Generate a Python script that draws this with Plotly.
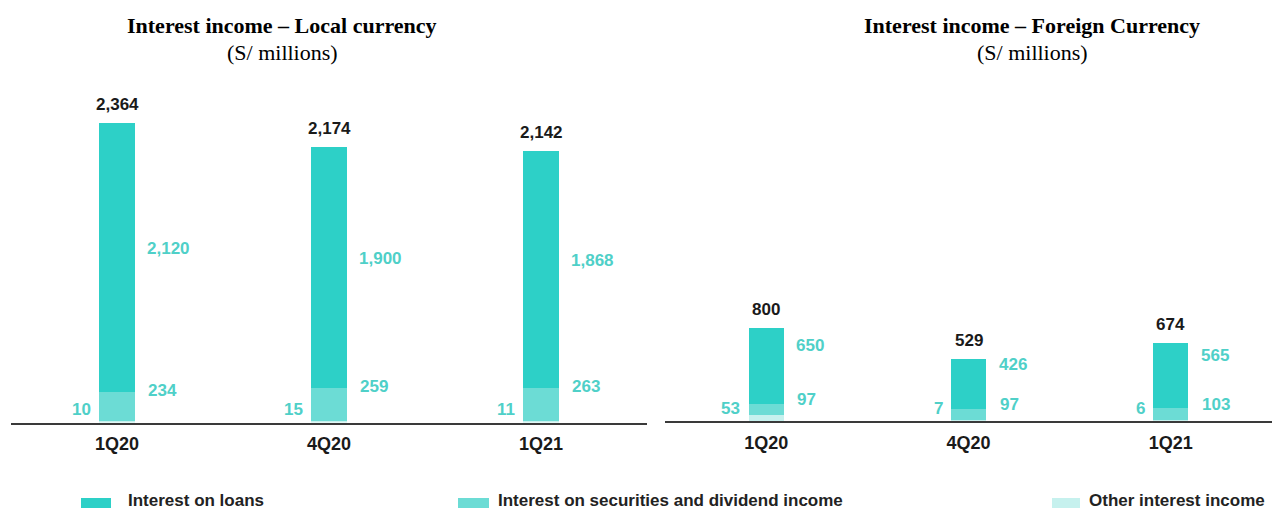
import plotly.graph_objects as go

# ---------------- data ----------------
categories = ["1Q20", "4Q20", "1Q21"]
series_names = ["Interest on loans", "Interest on securities and dividend income", "Other interest income"]

local_loans = [2120, 1900, 1868]
local_securities = [234, 259, 263]
local_other = [10, 15, 11]
local_total = [2364, 2174, 2142]

foreign_loans = [650, 426, 565]
foreign_securities = [97, 97, 103]
foreign_other = [53, 7, 6]
foreign_total = [800, 529, 674]

titles = ["Interest income – Local currency", "Interest income – Foreign Currency"]
subtitle = "(S/ millions)"

# ---------------- style ----------------
OFF = 8  # page body margin
W, H = 1281 - OFF, 512 - OFF
C_LOANS = "#2dd0c7"
C_SEC = "#6cdcd5"
C_OTHER = "#c6f1ee"
C_LABEL = "#4fd0c8"
SANS = "Liberation Sans, Arial, sans-serif"
SERIF = "Liberation Serif, Times New Roman, serif"


def px_x(p):
    return (p - OFF) / W


def px_y(p):
    return (H - (p - OFF)) / H


panels = [
    dict(xa="x", ya="y", loans=local_loans, sec=local_securities, other=local_other,
         total=local_total, width=0.166, dom_x=[11, 647], dom_y=[422.5, 90], ymax=2626,
         title_x=282, loan_shift=9, sec_shift=1),
    dict(xa="x2", ya="y2", loans=foreign_loans, sec=foreign_securities, other=foreign_other,
         total=foreign_total, width=0.173, dom_x=[665, 1272], dom_y=[421, 90], ymax=2846,
         title_x=1032, loan_shift=20, sec_shift=4),
]

fig = go.Figure()
annotations = []

for p in panels:
    for vals, col in [(p["other"], C_OTHER), (p["sec"], C_SEC), (p["loans"], C_LOANS)]:
        fig.add_trace(go.Bar(
            x=categories, y=vals, marker=dict(color=col, line=dict(width=0)),
            width=p["width"], xaxis=p["xa"], yaxis=p["ya"], showlegend=False,
            hoverinfo="skip",
        ))
    for i, c in enumerate(categories):
        o, s, l, t = p["other"][i], p["sec"][i], p["loans"][i], p["total"][i]
        annotations.append(dict(
            x=c, y=o + s + l, xref=p["xa"], yref=p["ya"], text=f"<b>{t:,}</b>",
            showarrow=False, xanchor="center", yanchor="bottom", yshift=7,
            font=dict(family=SANS, size=17, color="#1a1a1a")))
        annotations.append(dict(
            x=c, y=o + s + l / 2, xref=p["xa"], yref=p["ya"], text=f"<b>{l:,}</b>",
            showarrow=False, xanchor="left", yanchor="middle", xshift=28, yshift=p["loan_shift"],
            font=dict(family=SANS, size=17, color=C_LABEL)))
        annotations.append(dict(
            x=c, y=o + s, xref=p["xa"], yref=p["ya"], text=f"<b>{s:,}</b>",
            showarrow=False, xanchor="left", yanchor="middle", xshift=29, yshift=p["sec_shift"],
            font=dict(family=SANS, size=17, color=C_LABEL)))
        annotations.append(dict(
            x=c, y=0, xref=p["xa"], yref=p["ya"], text=f"<b>{o:,}</b>",
            showarrow=False, xanchor="right", yanchor="middle", xshift=-24, yshift=13,
            font=dict(family=SANS, size=17, color=C_LABEL)))

for p, ttl in zip(panels, titles):
    annotations.append(dict(
        x=px_x(p["title_x"]), y=px_y(26), xref="paper", yref="paper", text=f"<b>{ttl}</b>",
        showarrow=False, xanchor="center", yanchor="middle",
        font=dict(family=SERIF, size=22, color="#000000")))
    annotations.append(dict(
        x=px_x(p["title_x"]), y=px_y(52), xref="paper", yref="paper", text=subtitle,
        showarrow=False, xanchor="center", yanchor="middle",
        font=dict(family=SERIF, size=22, color="#000000")))

legend_items = [
    (series_names[0], C_LOANS, 81, 111, 126),
    (series_names[1], C_SEC, 458, 489, 496),
    (series_names[2], C_OTHER, 1052, 1080, 1087),
]
shapes = []
for name, col, x0, x1, tx in legend_items:
    shapes.append(dict(type="rect", xref="paper", yref="paper",
                       x0=px_x(x0), x1=px_x(x1), y0=px_y(508), y1=px_y(498),
                       fillcolor=col, line=dict(width=0)))
    annotations.append(dict(
        x=px_x(tx), y=px_y(500.5), xref="paper", yref="paper", text=f"<b>{name}</b>",
        showarrow=False, xanchor="left", yanchor="middle",
        font=dict(family=SANS, size=17, color="#222222")))

layout_axes = {}
for k, p in enumerate(panels):
    sx = "" if k == 0 else "2"
    layout_axes["xaxis" + sx] = dict(
        domain=[px_x(p["dom_x"][0]), px_x(p["dom_x"][1])],
        anchor="y" + sx, type="category", range=[-0.5, 2.5],
        showline=True, linecolor="#3a3a3a", linewidth=2, showgrid=False, zeroline=False,
        ticks="", ticklabelstandoff=4,
        tickfont=dict(family=SANS, size=18, color="#1a1a1a", weight="bold"),
    )
    layout_axes["yaxis" + sx] = dict(
        domain=[px_y(p["dom_y"][0]), px_y(p["dom_y"][1])],
        anchor="x" + sx, range=[0, p["ymax"]], visible=False, showgrid=False, zeroline=False,
    )

fig.update_layout(
    width=W, height=H, barmode="stack",
    margin=dict(l=0, r=0, t=0, b=0),
    paper_bgcolor="white", plot_bgcolor="white",
    annotations=annotations, shapes=shapes, showlegend=False,
    **layout_axes,
)

fig.write_html("out.html")
